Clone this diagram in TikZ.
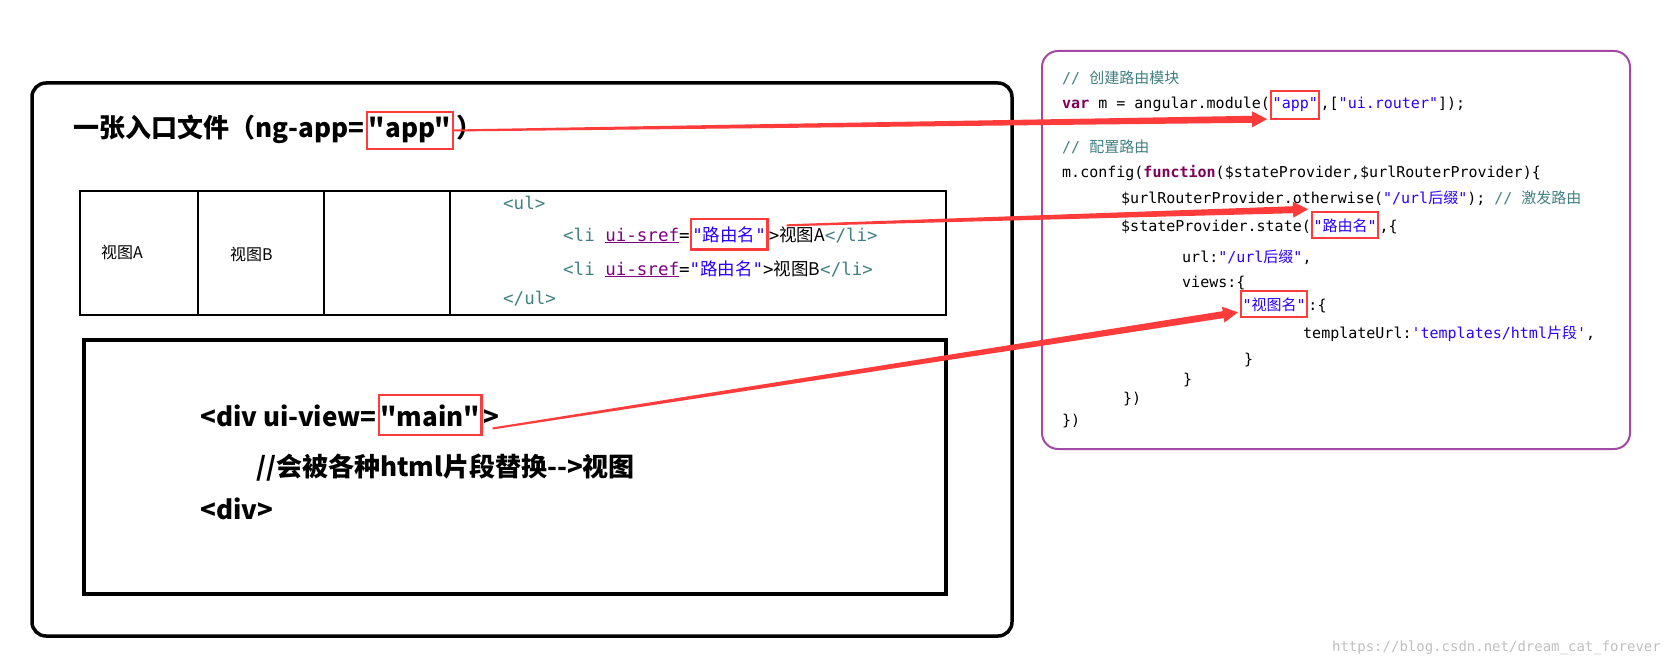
\documentclass[tikz,border=0pt]{standalone}
\usepackage{fontspec}
\setmonofont{DejaVu Sans Mono}
\newfontfamily\cjk{Noto Sans CJK SC}
\usetikzlibrary{calc}
\definecolor{cmt}{HTML}{3F7F7F}
\definecolor{kw}{HTML}{7F0055}
\definecolor{str}{HTML}{2A00FF}
\definecolor{attr}{HTML}{7F007F}
\definecolor{arr}{HTML}{FF3B3B}
\definecolor{frame}{HTML}{A349A4}
\newcommand{\wedgearr}[2]{%
  \coordinate (wc) at ($(#2)!15pt!(#1)$);
  \fill[arr] ($(#1)!1pt!90:(#2)$) -- ($(wc)!3.5pt!-90:(#1)$) -- ($(wc)!8pt!-90:(#1)$) -- (#2)
    -- ($(wc)!8pt!90:(#1)$) -- ($(wc)!3.5pt!90:(#1)$) -- ($(#1)!1pt!-90:(#2)$) -- cycle;}
\begin{document}
\begin{tikzpicture}[x=1pt,y=-1pt,
  redbox/.style={draw=arr,line width=2.2pt,inner xsep=1.5pt,inner ysep=7pt,anchor=base west},
  code/.style={anchor=base west,inner sep=0pt,font=\ttfamily\fontsize{15}{16}\selectfont},
  tcode/.style={code,font=\ttfamily\fontsize{17.5}{18}\selectfont},
  big/.style={anchor=base west,inner sep=0pt,font=\cjk\bfseries\fontsize{26}{28}\selectfont},
  cell/.style={anchor=west,inner sep=0pt,font=\cjk\fontsize{16}{17}\selectfont}]
\useasboundingbox (0,0) rectangle (1666,666);
% left page
\draw[line width=3.5pt,rounded corners=14pt] (32,83) rectangle (1012,636);
\node[big] (title) at (73,138) {一张入口文件（ng-app=};
\node[big,redbox,inner ysep=6pt] (appA) at ([xshift=2pt]title.base east) {"app"};
\node[big] (title2) at ([xshift=2pt]appA.base east) {）};
% table
\draw[line width=2.5pt] (80,191) rectangle (946,315);
\foreach \x in {198,324,450} \draw[line width=2.5pt] (\x,191) -- (\x,315);
\node[cell] (vA) at (101,252) {视图A};
\node[cell] (vB) at (230,254) {视图B};
\node[tcode,text=cmt] (ul1) at (503,209) {<ul>};
\node[tcode] (li1) at (563,241) {\textcolor{cmt}{<li} \textcolor{attr}{\underline{ui-sref}}=};
\node[tcode,redbox,text=str,inner ysep=7pt] (routeA) at (li1.base east) {\textit{"{\cjk 路由名}"}};
\node[tcode] (li1b) at (routeA.base east) {>{\cjk 视图A}\textcolor{cmt}{</li>}};
\node[tcode] (li2) at (563,275) {\textcolor{cmt}{<li} \textcolor{attr}{\underline{ui-sref}}=\textcolor{str}{\textit{"{\cjk 路由名}"}}>{\cjk 视图B}\textcolor{cmt}{</li>}};
\node[tcode,text=cmt] (ul2) at (503,304) {</ul>};
% view box
\draw[line width=3.5pt] (84,340) rectangle (946,594);
\node[big] (div1) at (200,426) {<div ui-view=};
\node[big,redbox,inner ysep=9pt] (mainA) at ([xshift=1pt]div1.base east) {"main"};
\node[big] (div1b) at ([xshift=1pt]mainA.base east) {>};
\node[big] (div2) at (256,476) {//会被各种html片段替换-{}->视图};
\node[big] (div3) at (200,519) {<div>};
% code panel
\draw[frame,line width=2pt,rounded corners=16pt] (1042,51) rectangle (1630,449);
\node[code,text=cmt] (c1) at (1062,84) {// {\cjk 创建路由模块}};
\node[code] (c2) at (1062,109) {\textcolor{kw}{\bfseries var} m = angular.module(};
\node[code,redbox,text=str] (appB) at (c2.base east) {"app"};
\node[code] (c2b) at (appB.base east) {,[\textcolor{str}{"ui.router"}]);};
\node[code,text=cmt] (c3) at (1062,153) {// {\cjk 配置路由}};
\node[code] (c4) at (1062,178) {m.config(\textcolor{kw}{\bfseries function}(\$stateProvider,\$urlRouterProvider)\{};
\node[code] (c5) at (1121,204) {\$urlRouterProvider.otherwise(\textcolor{str}{"/url{\cjk 后缀}"}); \textcolor{cmt}{// {\cjk 激发路由}}};
\node[code] (c6) at (1121,231) {\$stateProvider.state(};
\node[code,redbox,text=str,inner ysep=6pt] (routeB) at (c6.base east) {"{\cjk 路由名}"};
\node[code] (c6b) at (routeB.base east) {,\{};
\node[code] (c7) at (1182,262) {url:\textcolor{str}{"/url{\cjk 后缀}"},};
\node[code] (c8) at (1182,287) {views:\{};
\node[code,redbox,text=str,inner ysep=6pt] (viewB) at (1240,310) {"{\cjk 视图名}"};
\node[code] (c9) at (viewB.base east) {:\{};
\node[code] (c10) at (1303,338) {templateUrl:\textcolor{str}{'templates/html{\cjk 片段}'},};
\node[code] (c11) at (1244,364) {\}};
\node[code] (c12) at (1183,384) {\}};
\node[code] (c13) at (1123,403) {\})};
\node[code] (c14) at (1062,425) {\})};
% arrows
\coordinate (s1) at (appA.east);
\coordinate (e1) at ($(appB.west)+(-3,14)$);
\wedgearr{s1}{e1}
\coordinate (s2) at ($(routeA.east)+(18,-9)$);
\coordinate (e2) at ($(routeB.north west)+(-3,-2)$);
\wedgearr{s2}{e2}
\coordinate (s3) at ($(mainA.south east)+(10,-8)$);
\coordinate (e3) at ($(viewB.south west)+(-2,-6)$);
\wedgearr{s3}{e3}
\node[anchor=east,inner sep=0pt,text=black!25,font=\ttfamily\fontsize{14}{14}\selectfont] (wm) at (1661,648) {https://blog.csdn.net/dream\_cat\_forever};
\end{tikzpicture}
\end{document}
